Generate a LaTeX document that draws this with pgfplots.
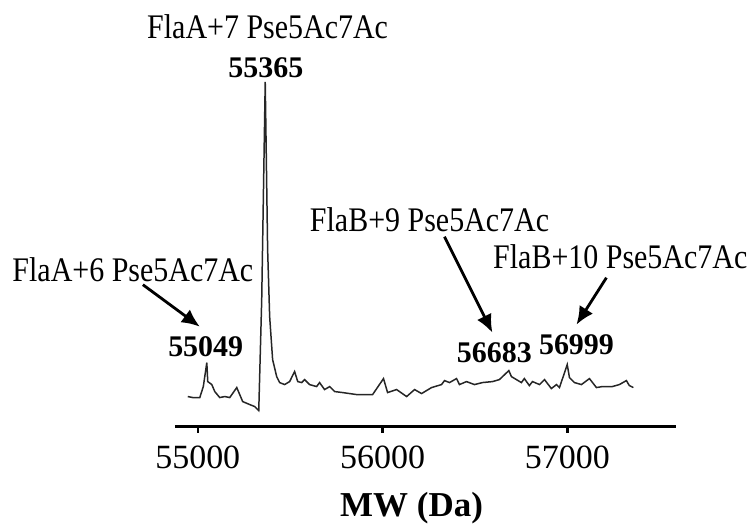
\documentclass[border=0pt]{standalone}
\usepackage{pgfplots}
\usepackage{pgfplotstable}
\pgfplotsset{compat=1.18}
\usepackage{fontspec}
\setmainfont{Liberation Serif}
\usetikzlibrary{arrows.meta}

% deconvoluted spectrum, MW (Da) vs relative intensity
\pgfplotstableread{
mw int
54946 30
54973 29
55011 29
55030 40
55049 64
55054 45
55076 42
55092 35
55119 29
55146 30
55173 29
55211 39
55227 32
55243 25
55281 22
55308 20
55330 16
55346 127
55365 345
55378 177
55389 110
55405 67
55427 50
55443 44
55470 42
55497 45
55524 55
55541 45
55562 44
55578 47
55605 42
55643 40
55659 44
55686 37
55714 40
55741 35
55784 34
55859 32
55930 32
55946 32
56005 48
56027 34
56076 37
56130 30
56173 37
56211 33
56265 39
56319 42
56335 46
56362 44
56400 48
56416 42
56454 45
56497 42
56540 44
56595 45
56632 47
56683 56
56697 50
56724 47
56751 44
56767 48
56794 41
56811 45
56849 42
56876 47
56913 38
56941 42
56957 39
56999 62
57011 49
57038 44
57076 42
57119 48
57157 39
57189 40
57243 40
57281 42
57319 46
57335 41
57357 39
}\spectrum

\newcommand{\ann}[1]{\scalebox{1}[1.15]{#1}}

\begin{document}
\begin{tikzpicture}
\begin{axis}[
  scale only axis, width=251pt, height=206pt,
  xmin=54876, xmax=57589, ymin=0, ymax=412,
  axis x line*=bottom, axis y line=none,
  xtick={55000,56000,57000}, ytick=\empty,
  scaled x ticks=false,
  tick align=outside, major tick length=3pt,
  x axis line style={line width=1.4pt},
  x tick style={line width=1.2pt, black},
  /pgf/number format/assume math mode=true,
  /pgf/number format/set thousands separator={},
  xticklabel style={font=\fontsize{17}{20}\selectfont, yshift=-3pt},
  xlabel={\textbf{MW (Da)}},
  xlabel style={font=\fontsize{17.5}{20}\selectfont, yshift=-5pt, xshift=-7pt},
  clip=false,
]
\addplot[line width=0.75pt, black!85, mark=none] table[x=mw, y=int] {\spectrum};

\path (axis cs:53930,427) rectangle (axis cs:58005,-100);

\node[font=\fontsize{15}{18}\selectfont] at (axis cs:55378,400) {\ann{FlaA+7 Pse5Ac7Ac}};
\node[font=\fontsize{15}{18}\selectfont\bfseries] at (axis cs:55368,359) {55365};
\node[font=\fontsize{15}{18}\selectfont] at (axis cs:54649,157) {\ann{FlaA+6 Pse5Ac7Ac}};
\node[font=\fontsize{15}{18}\selectfont\bfseries] at (axis cs:55043,80) {55049};
\node[font=\fontsize{15}{18}\selectfont] at (axis cs:56254,207) {\ann{FlaB+9 Pse5Ac7Ac}};
\node[font=\fontsize{15}{18}\selectfont] at (axis cs:57286,170) {\ann{FlaB+10 Pse5Ac7Ac}};
\node[font=\fontsize{15}{18}\selectfont\bfseries] at (axis cs:56605,74) {56683};
\node[font=\fontsize{15}{18}\selectfont\bfseries] at (axis cs:57049,82) {56999};

\draw[line width=1.4pt, -{Latex[length=9pt,width=8pt]}] (axis cs:54703,142) -- (axis cs:55011,100);
\draw[line width=1.4pt, -{Latex[length=9pt,width=8pt]}] (axis cs:56335,190) -- (axis cs:56594,94);
\draw[line width=1.4pt, -{Latex[length=9pt,width=8pt]}] (axis cs:57211,149) -- (axis cs:57049,102);
\end{axis}
\end{tikzpicture}
\end{document}
